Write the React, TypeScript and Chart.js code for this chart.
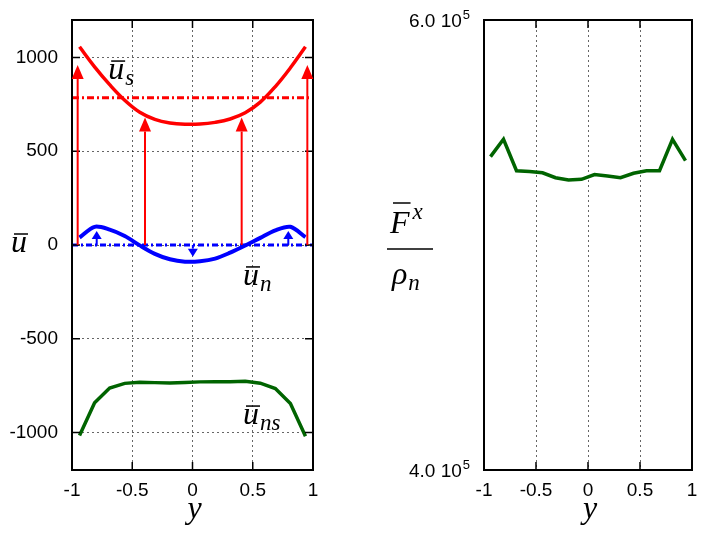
import { useEffect, useRef } from "react";
import { Chart, registerables } from "chart.js";

Chart.register(...registerables);

// sample positions across the channel
const yPos = [
  -0.9375, -0.8125, -0.6875, -0.5625, -0.4375, -0.3125, -0.1875, -0.0625,
  0.0625, 0.1875, 0.3125, 0.4375, 0.5625, 0.6875, 0.8125, 0.9375,
];

// left panel: velocities
const uS = [1057, 950, 855, 772, 708, 670, 651, 644, 645, 654, 672, 705, 762, 845, 945, 1057];
const uN = [40, 97, 82, 48, -2, -47, -76, -89, -87, -73, -41, -3, 38, 78, 97, 42];
const uNS = [-1016, -842, -763, -738, -732, -734, -736, -733, -730, -729, -729, -727, -737, -766, -846, -1020];
const uSMean = 786;
const uNMean = 0;

const redArrowX = [-0.953, -0.394, 0.408, 0.953];
const redArrowTip = [960, 680, 680, 960];
const blueArrowX = [-0.795, 0.003, 0.795];
const blueArrowTip = [75, -62, 75];

// right panel: force over density
const forceRho = [
  539300, 547000, 533000, 532700, 532100, 529900, 528900, 529200,
  531300, 530700, 529900, 531900, 533000, 533000, 547000, 537500,
];

const xTicks = [-1, -0.5, 0, 0.5, 1];
const leftTicks = [-1000, -500, 0, 500, 1000];
const rightTicks = [400000, 600000];
const rightTickLabels = ["4.0 10", "6.0 10"];

const TICK_FONT = { family: "'Liberation Sans', Arial, sans-serif", size: 19 };
const MATH = "'Liberation Serif', 'Times New Roman', serif";
const GRID = "rgba(0,0,0,0.6)";

function pts(xs: number[], ys: number[]) {
  return xs.map((x, i) => ({ x, y: ys[i] }));
}

function mathText(
  ctx: CanvasRenderingContext2D,
  x: number,
  base: number,
  main: string,
  opt: { sub?: string; sup?: string; bar?: number; size?: number } = {}
) {
  const size = opt.size ?? 32;
  ctx.save();
  ctx.fillStyle = "#000";
  ctx.strokeStyle = "#000";
  ctx.textAlign = "left";
  ctx.textBaseline = "alphabetic";
  ctx.font = `italic ${size}px ${MATH}`;
  ctx.fillText(main, x, base);
  const w = ctx.measureText(main).width;
  if (opt.bar) {
    ctx.lineWidth = 1.5;
    ctx.beginPath();
    ctx.moveTo(x + 3, base - opt.bar);
    ctx.lineTo(x + w + 1, base - opt.bar);
    ctx.stroke();
  }
  ctx.font = `italic ${Math.round(size * 0.72)}px ${MATH}`;
  if (opt.sub) ctx.fillText(opt.sub, x + w + 1, base + size * 0.18);
  if (opt.sup) ctx.fillText(opt.sup, x + w + 3, base - size * 0.45);
  ctx.restore();
}

function arrow(
  ctx: CanvasRenderingContext2D,
  x: number,
  y0: number,
  y1: number,
  color: string,
  headW: number,
  headL: number
) {
  const dir = y1 < y0 ? -1 : 1;
  ctx.save();
  ctx.strokeStyle = color;
  ctx.fillStyle = color;
  ctx.lineWidth = 2;
  ctx.beginPath();
  ctx.moveTo(x, y0);
  ctx.lineTo(x, y1 - dir * headL);
  ctx.stroke();
  ctx.beginPath();
  ctx.moveTo(x, y1);
  ctx.lineTo(x - headW / 2, y1 - dir * headL);
  ctx.lineTo(x + headW / 2, y1 - dir * headL);
  ctx.closePath();
  ctx.fill();
  ctx.restore();
}

// black box with inward ticks on all four sides
const framePlugin = {
  id: "frame",
  afterDatasetsDraw(chart: any) {
    const { ctx, chartArea: a, scales } = chart;
    ctx.save();
    ctx.strokeStyle = "#000";
    ctx.lineWidth = 1.5;
    ctx.beginPath();
    for (const v of xTicks) {
      const px = scales.x.getPixelForValue(v);
      ctx.moveTo(px, a.bottom);
      ctx.lineTo(px, a.bottom - 8);
      ctx.moveTo(px, a.top);
      ctx.lineTo(px, a.top + 8);
    }
    for (const t of scales.y.ticks) {
      const py = scales.y.getPixelForValue(t.value);
      ctx.moveTo(a.left, py);
      ctx.lineTo(a.left + 8, py);
      ctx.moveTo(a.right, py);
      ctx.lineTo(a.right - 8, py);
    }
    ctx.stroke();
    ctx.lineWidth = 2;
    ctx.strokeRect(a.left, a.top, a.right - a.left, a.bottom - a.top);
    ctx.restore();
  },
};

const leftLabels = {
  id: "leftLabels",
  afterDatasetsDraw(chart: any) {
    const { ctx, scales } = chart;
    const x = scales.x;
    const y = scales.y;
    const base = y.getPixelForValue(0);
    redArrowX.forEach((v, i) =>
      arrow(ctx, x.getPixelForValue(v), base, y.getPixelForValue(redArrowTip[i]), "#ff0000", 12, 14)
    );
    blueArrowX.forEach((v, i) =>
      arrow(ctx, x.getPixelForValue(v), base, y.getPixelForValue(blueArrowTip[i]), "#0000ff", 10, 8)
    );
    mathText(ctx, x.getPixelForValue(-0.7), y.getPixelForValue(885), "u", { sub: "s", bar: 18 });
    mathText(ctx, x.getPixelForValue(0.419), y.getPixelForValue(-213), "u", { sub: "n", bar: 18 });
    mathText(ctx, x.getPixelForValue(0.419), y.getPixelForValue(-955), "u", { sub: "ns", bar: 18 });
  },
  afterDraw(chart: any) {
    const { ctx } = chart;
    mathText(ctx, 11, 252, "u", { bar: 18 });
    ctx.save();
    ctx.font = `italic 32px ${MATH}`;
    ctx.fillStyle = "#000";
    ctx.textAlign = "center";
    ctx.fillText("y", chart.scales.x.getPixelForValue(0) + 2, 518);
    ctx.restore();
  },
};

const rightLabels = {
  id: "rightLabels",
  afterDraw(chart: any) {
    const { ctx, chartArea: a, scales } = chart;
    ctx.save();
    ctx.fillStyle = "#000";
    rightTicks.forEach((v, i) => {
      const py = scales.y.getPixelForValue(v);
      ctx.font = `13px ${TICK_FONT.family}`;
      const supW = ctx.measureText("5").width;
      ctx.textAlign = "left";
      ctx.textBaseline = "alphabetic";
      const right = a.left - 14;
      ctx.fillText("5", right - supW, py - 1);
      ctx.font = `${TICK_FONT.size}px ${TICK_FONT.family}`;
      ctx.textAlign = "right";
      ctx.textBaseline = "middle";
      ctx.fillText(rightTickLabels[i], right - supW - 1, py + 2);
    });
    // fraction  F̄^x / ρ_n
    mathText(ctx, 37, 233, "F", { sup: "x", bar: 30 });
    ctx.lineWidth = 1.5;
    ctx.strokeStyle = "#000";
    ctx.beginPath();
    ctx.moveTo(34, 249);
    ctx.lineTo(80, 249);
    ctx.stroke();
    mathText(ctx, 39, 284, "ρ", { sub: "n" });
    ctx.font = `italic 32px ${MATH}`;
    ctx.textAlign = "center";
    ctx.textBaseline = "alphabetic";
    ctx.fillText("y", scales.x.getPixelForValue(0) + 2, 518);
    ctx.restore();
  },
};

function xScale(height: number) {
  return {
    type: "linear" as const,
    min: -1,
    max: 1,
    afterBuildTicks: (s: any) => {
      s.ticks = xTicks.map((value) => ({ value }));
    },
    afterFit: (s: any) => {
      s.height = height;
      s.paddingLeft = 0;
      s.paddingRight = 0;
    },
    ticks: {
      autoSkip: false,
      maxRotation: 0,
      padding: 9,
      color: "#000",
      font: TICK_FONT,
      callback: (v: any) => String(v),
    },
    grid: { color: GRID, lineWidth: 1, drawTicks: false },
    border: { display: false, dash: [2, 3] },
  };
}

function yFit(width: number) {
  return (s: any) => {
    s.width = width;
    s.paddingTop = 0;
    s.paddingBottom = 0;
  };
}

export default function App() {
  const leftRef = useRef<HTMLCanvasElement>(null);
  const rightRef = useRef<HTMLCanvasElement>(null);

  useEffect(() => {
    if (!leftRef.current || !rightRef.current) return;

    const left = new Chart(leftRef.current, {
      type: "scatter",
      data: {
        datasets: [
          {
            data: [{ x: -1, y: uSMean }, { x: 1, y: uSMean }],
            showLine: true,
            borderColor: "#ff0000",
            borderWidth: 3,
            borderDash: [7, 3, 2, 3],
            pointRadius: 0,
          },
          {
            data: [{ x: -1, y: uNMean }, { x: 1, y: uNMean }],
            showLine: true,
            borderColor: "#0000ff",
            borderWidth: 3,
            borderDash: [6, 3, 2, 3],
            pointRadius: 0,
          },
          {
            data: pts(yPos, uS),
            showLine: true,
            borderColor: "#ff0000",
            borderWidth: 3.5,
            tension: 0.4,
            pointRadius: 0,
          },
          {
            data: pts(yPos, uN),
            showLine: true,
            borderColor: "#0000ff",
            borderWidth: 4,
            tension: 0.3,
            pointRadius: 0,
          },
          {
            data: pts(yPos, uNS),
            showLine: true,
            borderColor: "#006400",
            borderWidth: 3.5,
            pointRadius: 0,
          },
        ],
      },
      options: {
        animation: false,
        responsive: false,
        events: [],
        layout: { padding: { top: 20, right: 40, left: 0, bottom: 0 } },
        plugins: { legend: { display: false }, tooltip: { enabled: false } },
        scales: {
          x: xScale(68),
          y: {
            min: -1200,
            max: 1200,
            afterBuildTicks: (s: any) => {
              s.ticks = leftTicks.map((value) => ({ value }));
            },
            afterFit: yFit(72),
            ticks: {
              autoSkip: false,
              padding: 14,
              color: "#000",
              font: TICK_FONT,
              callback: (v: any) => String(v),
            },
            grid: { color: GRID, lineWidth: 1, drawTicks: false },
            border: { display: false, dash: [2, 3] },
          },
        },
      },
      plugins: [framePlugin, leftLabels],
    });

    const right = new Chart(rightRef.current, {
      type: "scatter",
      data: {
        datasets: [
          {
            data: pts(yPos, forceRho),
            showLine: true,
            borderColor: "#006400",
            borderWidth: 3.5,
            pointRadius: 0,
          },
        ],
      },
      options: {
        animation: false,
        responsive: false,
        events: [],
        layout: { padding: { top: 20, right: 14, left: 0, bottom: 0 } },
        plugins: { legend: { display: false }, tooltip: { enabled: false } },
        scales: {
          x: xScale(68),
          y: {
            min: 400000,
            max: 600000,
            afterBuildTicks: (s: any) => {
              s.ticks = rightTicks.map((value) => ({ value }));
            },
            afterFit: yFit(131),
            ticks: { display: false },
            grid: { display: false },
            border: { display: false },
          },
        },
      },
      plugins: [framePlugin, rightLabels],
    });

    return () => {
      left.destroy();
      right.destroy();
    };
  }, []);

  return (
    <div
      style={{
        position: "fixed",
        left: 0,
        top: 0,
        width: 706,
        height: 538,
        background: "#fff",
        display: "flex",
      }}
    >
      <canvas ref={leftRef} width={353} height={538} style={{ width: 353, height: 538 }} />
      <canvas ref={rightRef} width={353} height={538} style={{ width: 353, height: 538 }} />
    </div>
  );
}
